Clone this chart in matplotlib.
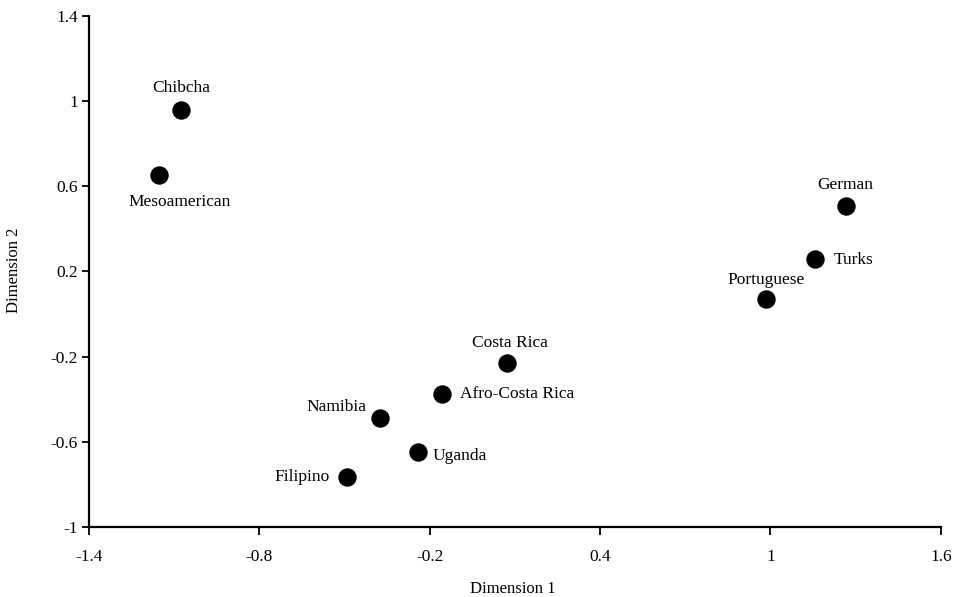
import matplotlib
matplotlib.use('Agg')
import matplotlib.pyplot as plt

# ── 데이터 ──────────────────────────────────────────
groups = ["Chibcha", "Mesoamerican", "German", "Turks", "Portuguese",
          "Costa Rica", "Afro-Costa Rica", "Namibia", "Uganda", "Filipino"]
dim1 = [-1.076, -1.154, 1.265, 1.156, 0.984, 0.072, -0.157, -0.375, -0.242, -0.492]
dim2 = [0.959, 0.653, 0.508, 0.259, 0.071, -0.230, -0.375, -0.488, -0.648, -0.765]

xticks = [-1.4, -0.8, -0.2, 0.4, 1.0, 1.6]
xtick_labels = ["-1.4", "-0.8", "-0.2", "0.4", "1", "1.6"]
yticks = [-1.0, -0.6, -0.2, 0.2, 0.6, 1.0, 1.4]
ytick_labels = ["-1", "-0.6", "-0.2", "0.2", "0.6", "1", "1.4"]

# 라벨 위치 (offset points, ha, va)
label_pos = {
    "Chibcha": ((0, 10), 'center', 'bottom'),
    "Mesoamerican": ((15, -14), 'center', 'top'),
    "German": ((0, 9), 'center', 'bottom'),
    "Turks": ((14, -1), 'left', 'center'),
    "Portuguese": ((0, 8), 'center', 'bottom'),
    "Costa Rica": ((2, 9), 'center', 'bottom'),
    "Afro-Costa Rica": ((13, 0), 'left', 'center'),
    "Namibia": ((-10, 8), 'right', 'center'),
    "Uganda": ((11, -3), 'left', 'center'),
    "Filipino": ((-12, 0), 'right', 'center'),
}

plt.rcParams['font.family'] = ['Liberation Serif', 'DejaVu Serif']

fig = plt.figure(figsize=(9.56, 5.97), dpi=100)
ax = fig.add_axes([0.0931, 0.1173, 0.891, 0.856])

ax.scatter(dim1, dim2, s=150, color='black', zorder=3, clip_on=False)

for name, x, y in zip(groups, dim1, dim2):
    off, ha, va = label_pos[name]
    ax.annotate(name, (x, y), xytext=off, textcoords='offset points',
                ha=ha, va=va, fontsize=12.5)

ax.set_xlim(-1.4, 1.6)
ax.set_ylim(-1.0, 1.4)
ax.set_xticks(xticks)
ax.set_xticklabels(xtick_labels)
ax.set_yticks(yticks)
ax.set_yticklabels(ytick_labels)

for side in ('top', 'right'):
    ax.spines[side].set_visible(False)
for side in ('left', 'bottom'):
    ax.spines[side].set_linewidth(1.6)

ax.tick_params(axis='y', direction='out', length=5, width=1.3,
               labelsize=12.5, pad=3)
ax.tick_params(axis='x', direction='out', length=6, width=1.3,
               labelsize=12.5, pad=10)

ax.set_xlabel("Dimension 1", fontsize=12)
ax.xaxis.set_label_coords(0.497, -0.105)
ax.set_ylabel("Dimension 2", fontsize=12)
ax.yaxis.set_label_coords(-0.079, 0.503)

fig.savefig("out.png", dpi=100)
